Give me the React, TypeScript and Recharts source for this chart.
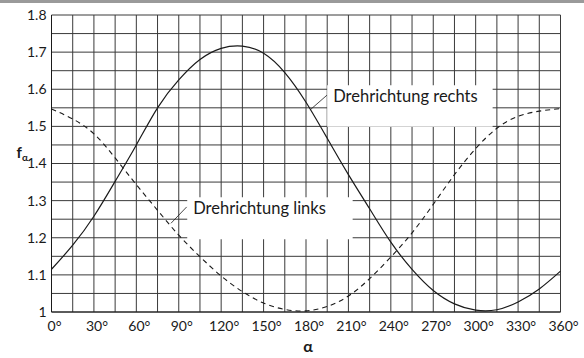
import {
  LineChart,
  Line,
  XAxis,
  YAxis,
  CartesianGrid,
  ReferenceArea,
  ReferenceLine,
} from 'recharts'

// angle in degrees, sampled every 15°
const ANGLES = [
  0, 15, 30, 45, 60, 75, 90, 105, 120, 135, 150, 165, 180,
  195, 210, 225, 240, 255, 270, 285, 300, 315, 330, 345, 360,
]
// Drehrichtung rechts (solid)
const RECHTS = [
  1.115, 1.18, 1.258, 1.352, 1.45, 1.55, 1.625, 1.68, 1.71, 1.716, 1.697, 1.645, 1.565,
  1.468, 1.37, 1.278, 1.188, 1.115, 1.058, 1.022, 1.005, 1.006, 1.027, 1.062, 1.11,
]
// Drehrichtung links (dashed)
const LINKS = [
  1.547, 1.52, 1.48, 1.415, 1.343, 1.274, 1.207, 1.149, 1.097, 1.055, 1.024, 1.007, 1.003,
  1.015, 1.043, 1.09, 1.148, 1.213, 1.29, 1.37, 1.44, 1.495, 1.527, 1.541, 1.548,
]

const X_TICKS = [0, 30, 60, 90, 120, 150, 180, 210, 240, 270, 300, 330, 360]
const Y_TICKS = [1, 1.1, 1.2, 1.3, 1.4, 1.5, 1.6, 1.7, 1.8]
const X_GRID = [
  0, 15, 30, 45, 60, 75, 90, 105, 120, 135, 150, 165, 180,
  195, 210, 225, 240, 255, 270, 285, 300, 315, 330, 345, 360,
]
const Y_GRID = [
  1, 1.05, 1.1, 1.15, 1.2, 1.25, 1.3, 1.35, 1.4, 1.45, 1.5, 1.55, 1.6, 1.65, 1.7, 1.75, 1.8,
]
const X_DOMAIN = [0, 360]
const Y_DOMAIN = [1, 1.8]

const FONT = 'Lato, "Open Sans", sans-serif'
const INK = '#1a1a1a'

const chartData = ANGLES.map((a, i) => ({ a, rechts: RECHTS[i], links: LINKS[i] }))

const boxLabel = (text: string) => (props: any) => {
  const vb = props.viewBox || {}
  return (
    <text x={vb.x + 6} y={vb.y + 17} fontSize={16.5} fontFamily={FONT} fill={INK}>
      {text}
    </text>
  )
}

// grid every 15° / 0.05, finer than the labelled ticks
const vGrid = ({ offset }: any) =>
  X_GRID.map((v) => offset.left + (offset.width * (v - X_DOMAIN[0])) / (X_DOMAIN[1] - X_DOMAIN[0]))
const hGrid = ({ offset }: any) =>
  Y_GRID.map((v) => offset.top + (offset.height * (Y_DOMAIN[1] - v)) / (Y_DOMAIN[1] - Y_DOMAIN[0]))

export default function App() {
  return (
    <div style={{ position: 'absolute', left: 0, top: 0, width: 584, height: 358, background: '#fff' }}>
      <div style={{ position: 'absolute', left: 0, top: 0, width: 584, height: 3, background: '#9a9a9a' }} />
      <LineChart
        width={584}
        height={358}
        data={chartData}
        margin={{ top: 15, right: 23.5, left: 0.5, bottom: 0 }}
      >
        <CartesianGrid
          stroke="#3a3a3a"
          strokeWidth={1}
          verticalCoordinatesGenerator={vGrid}
          horizontalCoordinatesGenerator={hGrid}
        />
        <XAxis
          dataKey="a"
          type="number"
          domain={X_DOMAIN}
          ticks={X_TICKS}
          tickFormatter={(v) => `${v}°`}
          tickSize={0}
          tickMargin={9}
          height={46}
          axisLine={{ stroke: INK }}
          tick={{ fontSize: 14, fontFamily: FONT, fill: INK, dx: 3 }}
          label={{
            content: (p: any) => (
              <text
                x={p.viewBox.x + p.viewBox.width / 2 + 2}
                y={p.viewBox.y + 40}
                textAnchor="middle"
                fontSize={16}
                fontWeight="bold"
                fontFamily={FONT}
                fill={INK}
              >
                α
              </text>
            ),
          }}
        />
        <YAxis
          type="number"
          domain={Y_DOMAIN}
          ticks={Y_TICKS}
          tickFormatter={(v) => (v === 1 ? '1' : v.toFixed(1))}
          tickSize={0}
          tickMargin={5}
          width={51}
          axisLine={{ stroke: INK }}
          tick={{ fontSize: 14, fontFamily: FONT, fill: INK }}
          label={{
            content: (p: any) => (
              <text
                x={p.viewBox.x + 16}
                y={p.viewBox.y + p.viewBox.height / 2 - 6}
                fontSize={15}
                fontWeight="bold"
                fontFamily={FONT}
                fill={INK}
              >
                f
                <tspan fontSize={10} dy={3}>α</tspan>
              </text>
            ),
          }}
        />
        <ReferenceArea
          x1={195}
          x2={312}
          y1={1.499}
          y2={1.611}
          fill="#fff"
          fillOpacity={1}
          stroke="none"
          label={boxLabel('Drehrichtung rechts')}
        />
        <ReferenceArea
          x1={96}
          x2={213}
          y1={1.196}
          y2={1.309}
          fill="#fff"
          fillOpacity={1}
          stroke="none"
          label={boxLabel('Drehrichtung links')}
        />
        <ReferenceLine
          segment={[{ x: 182.8, y: 1.544 }, { x: 194.8, y: 1.584 }]}
          stroke={INK}
          strokeWidth={0.8}
        />
        <ReferenceLine
          segment={[{ x: 84.5, y: 1.239 }, { x: 95.6, y: 1.283 }]}
          stroke={INK}
          strokeWidth={0.8}
        />
        <Line
          type="natural"
          dataKey="rechts"
          stroke={INK}
          strokeWidth={1.2}
          dot={false}
          isAnimationActive={false}
        />
        <Line
          type="natural"
          dataKey="links"
          stroke={INK}
          strokeWidth={1.1}
          strokeDasharray="5 4"
          dot={false}
          isAnimationActive={false}
        />
      </LineChart>
    </div>
  )
}
